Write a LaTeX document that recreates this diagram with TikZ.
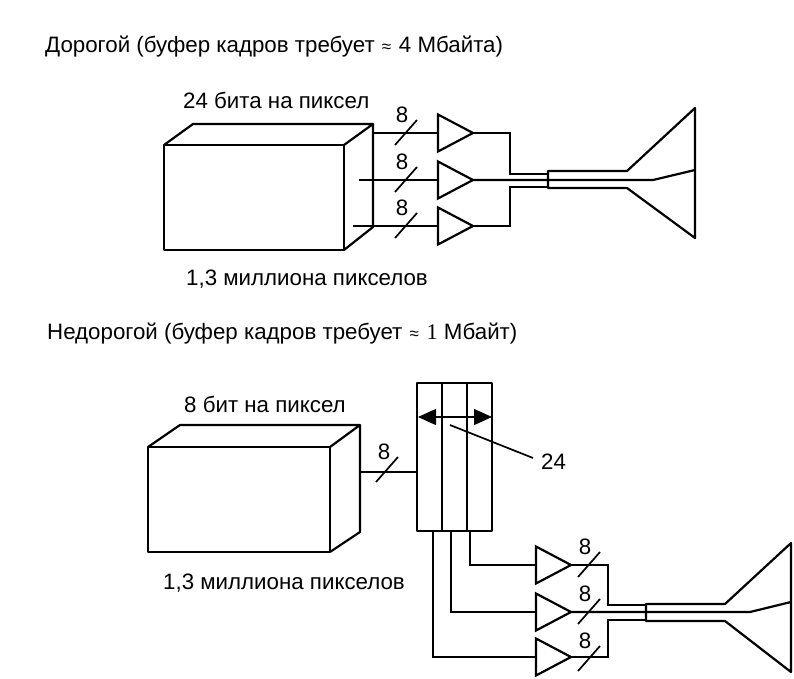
\documentclass[tikz,border=0pt]{standalone}
\usepackage{fontspec}
\setmainfont{Liberation Sans}
\newfontfamily\serifone{Liberation Serif}
\usetikzlibrary{arrows.meta}
\newcommand{\ampl}[3]{%
  \coordinate (#1-in) at (#2,#3);
  \coordinate (#1-out) at ({#2+35},#3);
  \draw[wire,line join=miter] (#2,{#3-18.5}) -- (#1-out) -- (#2,{#3+18.5}) -- cycle;}
\newcommand{\slashmark}[3]{%
  \coordinate (#1-a) at (#2,#3);
  \coordinate (#1-b) at ({#2+22},{#3-25});
  \draw[thin wire] (#1-a) -- (#1-b);
  \node[num] (#1-n) at ({#2+7},{#3-30}) {8};}
\tikzset{
  wire/.style={line width=2.2pt,black},
  thin wire/.style={line width=1.7pt,black},
  label/.style={font=\fontsize{22.3}{24}\selectfont,inner sep=0pt,anchor=west},
  num/.style={font=\fontsize{22.3}{24}\selectfont,inner sep=0pt},
}
\begin{document}
\begin{tikzpicture}[x=1pt,y=-1pt]
\useasboundingbox (0,0) rectangle (794,679);
% titles and captions
\node[label] (t1) at (45,47) {Дорогой (буфер кадров требует\hspace{1pt} {\fontsize{17}{18}\selectfont≈}\hspace{1.5pt} 4 Мбайта)};
\node[label] (t2) at (47,334) {Недорогой (буфер кадров требует\hspace{1pt} {\fontsize{17}{18}\selectfont≈}\hspace{1.5pt} {\serifone 1} Мбайт)};
\node[label] (c1) at (183,100) {24 бита на пиксел};
\node[label] (c2) at (186,279) {1,3 миллиона пикселов};
\node[label] (c3) at (184,404) {8 бит на пиксел};
\node[label] (c4) at (163,583) {1,3 миллиона пикселов};
% upper frame buffer
\draw[wire,line join=round] (164,145) rectangle (344,250);
\draw[wire,line join=round] (164,145) -- (193,124) -- (373,124) -- (344,145)
  (373,124) -- (373,227) -- (344,250);
\ampl{a1}{438}{133}
\ampl{a2}{438}{180}
\ampl{a3}{438}{226}
\coordinate (w1) at (373,133);
\coordinate (w2) at (359,180);
\coordinate (w3) at (353,226);
\draw[wire] (w1) -- (a1-in);
\draw[wire] (w2) -- (a2-in);
\draw[wire] (w3) -- (a3-in);
\slashmark{s1}{395}{145}
\slashmark{s2}{395}{192}
\slashmark{s3}{395}{238}
% upper tube
\coordinate (n1t) at (548,171);
\coordinate (n1b) at (548,188);
\coordinate (b1t) at (627,171);
\coordinate (b1b) at (627,188);
\coordinate (f1t) at (695,108);
\coordinate (f1b) at (695,238);
\coordinate (f1m) at (695,170);
\draw[wire,line join=round] (f1m) -- (f1t) -- (b1t) -- (n1t) -- (n1b) -- (b1b) -- (f1b) -- cycle;
\draw[wire] (a1-out) -| (510,174) -- (548,174);
\draw[wire] (a3-out) -| (510,187) -- (548,187);
\draw[wire] (a2-out) -- (653,180) -- (f1m);
% lower frame buffer
\draw[wire,line join=round] (148,447) rectangle (330,552);
\draw[wire,line join=round] (148,447) -- (180,425) -- (360,425) -- (330,447)
  (360,425) -- (360,532) -- (330,552);
\coordinate (w4) at (360,472);
\coordinate (r-in) at (417,472);
\draw[wire] (w4) -- (r-in);
\draw[thin wire] (376,482) -- (398,457);
\node[num] (n4) at (384,452) {8};
% colour map
\draw[wire,line join=round] (417,383) rectangle (492,531);
\draw[wire] (442,383) -- (442,531);
\draw[wire] (467,383) -- (467,531);
\coordinate (ar1) at (418,417);
\coordinate (ar2) at (492,417);
\draw[line width=1.2pt,{Triangle[length=18pt,width=16pt]}-{Triangle[length=18pt,width=16pt]}] (ar1) -- (ar2);
\coordinate (ld) at (450,425);
\node[num,anchor=west] (n24) at (541,462) {24};
\coordinate (le) at (533,458);
\draw[thin wire] (ld) -- (le);
% lower amplifiers
\ampl{a4}{536}{565}
\ampl{a5}{536}{612}
\ampl{a6}{536}{657}
\draw[wire] (470,531) |- (a4-in);
\draw[wire] (451,531) |- (a5-in);
\draw[wire] (433,531) |- (a6-in);
\slashmark{s4}{578}{577}
\slashmark{s5}{578}{624}
\slashmark{s6}{578}{671}
% lower tube
\coordinate (n2t) at (646,604);
\coordinate (n2b) at (646,621);
\coordinate (b2t) at (725,604);
\coordinate (b2b) at (725,621);
\coordinate (f2t) at (791,543);
\coordinate (f2b) at (791,672);
\coordinate (f2m) at (791,602);
\draw[wire,line join=round] (f2m) -- (f2t) -- (b2t) -- (n2t) -- (n2b) -- (b2b) -- (f2b) -- cycle;
\draw[wire] (a4-out) -| (608,605) -- (646,605);
\draw[wire] (a6-out) -| (608,620) -- (646,620);
\draw[wire] (a5-out) -- (750,612) -- (f2m);
\end{tikzpicture}
\end{document}
